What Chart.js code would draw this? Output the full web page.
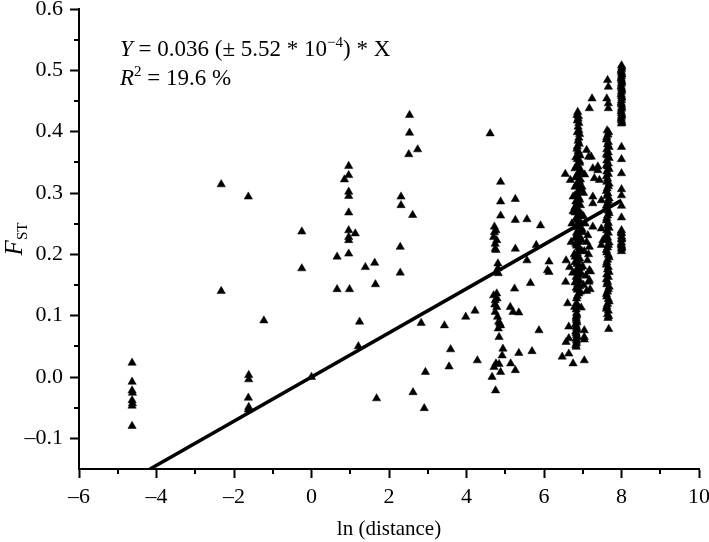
<!DOCTYPE html>
<html>
<head>
<meta charset="utf-8">
<script src="https://cdn.jsdelivr.net/npm/chart.js@4.4.1/dist/chart.umd.min.js"></script>
<style>
  html, body { margin: 0; padding: 0; background: #fff; }
</style>
</head>
<body>
<canvas id="chart" width="709" height="542"></canvas>
<script>
// pairwise points: [ln(distance), Fst]
const nearPairs = [
    [-4.63, 0.023], [-4.63, -0.008], [-4.63, -0.022], [-4.62, -0.026], [-4.63, -0.038],
    [-4.62, -0.043], [-4.63, -0.047], [-4.63, -0.080],
    [-2.33, 0.314], [-2.33, 0.140],
    [-1.63, 0.294], [-1.62, 0.003], [-1.62, -0.004], [-1.63, -0.034], [-1.63, -0.053], [-1.62, -0.049],
    [-1.23, 0.092], [-0.25, 0.237], [-0.25, 0.177], [0.0, 0.0],
    [0.66, 0.196], [0.66, 0.143],
    [0.96, 0.344], [0.96, 0.329], [0.85, 0.322], [0.96, 0.302], [0.96, 0.295], [0.96, 0.268],
    [0.96, 0.239], [1.13, 0.234], [0.96, 0.228], [0.96, 0.223], [0.96, 0.201], [0.98, 0.143],
    [1.24, 0.090], [1.21, 0.050], [1.39, 0.179], [1.63, 0.186], [1.65, 0.151], [1.68, -0.035],
    [2.29, 0.212], [2.29, 0.170], [2.31, 0.294], [2.31, 0.280], [2.61, 0.264],
    [2.53, 0.427], [2.53, 0.398], [2.51, 0.363], [2.74, 0.371],
    [2.83, 0.088], [2.94, 0.008], [2.62, -0.025], [2.91, -0.051],
    [3.43, 0.084], [3.59, 0.045], [3.55, 0.017], [3.98, 0.098], [4.22, 0.108], [4.28, 0.027]
];

const midPairs = [
    [4.61, 0.397],
    [4.88, 0.318], [4.88, 0.286], [4.88, 0.263], [4.72, 0.245], [4.76, 0.239], [4.70, 0.228],
    [4.78, 0.223], [4.74, 0.209], [4.76, 0.207], [4.81, 0.185], [4.81, 0.177], [4.82, 0.169],
    [4.70, 0.133], [4.78, 0.136], [4.74, 0.125], [4.78, 0.114], [4.74, 0.106], [4.80, 0.098],
    [4.83, 0.090], [4.86, 0.087], [4.88, 0.084], [4.82, 0.079], [4.84, 0.065], [4.94, 0.046],
    [4.92, 0.035], [4.76, 0.022], [4.84, 0.021], [4.71, 0.016], [4.88, 0.008], [4.66, 0.0],
    [4.75, -0.022], [4.72, 0.236], [4.74, 0.217], [4.79, 0.128], [4.73, 0.118],
    [5.26, 0.290], [5.26, 0.256], [5.56, 0.257], [5.91, 0.247], [5.26, 0.209], [5.80, 0.215],
    [5.56, 0.190], [6.13, 0.188], [6.13, 0.171], [6.09, 0.174], [5.24, 0.144], [5.65, 0.153],
    [5.13, 0.114], [5.20, 0.106], [5.35, 0.105], [5.87, 0.076], [5.35, 0.039], [5.69, 0.042],
    [5.14, 0.022], [5.26, 0.011]
];

const farPairs = [
    [6.55, 0.331], [6.68, 0.321], [6.75, 0.294], [7.24, 0.454], [7.17, 0.438],
    [7.10, 0.370], [7.15, 0.359], [7.22, 0.359], [7.26, 0.340], [7.39, 0.337], [7.39, 0.343],
    [7.43, 0.321], [7.30, 0.324], [7.26, 0.294], [7.26, 0.283], [7.48, 0.288], [7.26, 0.245],
    [7.48, 0.242], [7.13, 0.231], [7.52, 0.223], [7.48, 0.215], [7.17, 0.212],
    [7.17, 0.174], [7.20, 0.172], [7.17, 0.158], [7.19, 0.143], [6.57, 0.190], [6.66, 0.179],
    [6.56, 0.155], [6.61, 0.120], [6.79, 0.114], [6.96, 0.113], [6.64, 0.082], [7.04, 0.076],
    [6.64, 0.063], [7.04, 0.065], [7.04, 0.061], [6.57, 0.057], [6.47, 0.033], [6.64, 0.038],
    [6.75, 0.022], [7.04, 0.027]
];

const colA = [
    [6.87, 0.432], [6.85, 0.427], [6.88, 0.421], [6.90, 0.414], [6.90, 0.402], [6.92, 0.396],
    [6.90, 0.390], [6.88, 0.385], [6.85, 0.372], [6.90, 0.365], [6.82, 0.358], [6.92, 0.352],
    [6.86, 0.346], [6.80, 0.340], [6.90, 0.334], [6.84, 0.328], [6.94, 0.322], [6.86, 0.316],
    [6.80, 0.310], [6.92, 0.305], [6.85, 0.299], [6.90, 0.292], [6.82, 0.286], [6.94, 0.280],
    [6.86, 0.274], [6.80, 0.268], [6.92, 0.262], [6.85, 0.256], [6.90, 0.250], [6.82, 0.244],
    [6.95, 0.238], [6.86, 0.232], [6.80, 0.226], [6.90, 0.220], [6.84, 0.214], [6.93, 0.208],
    [6.86, 0.202], [6.80, 0.196], [6.90, 0.190], [6.85, 0.184], [6.95, 0.178], [6.82, 0.172],
    [6.90, 0.166], [6.86, 0.160], [6.80, 0.154], [6.92, 0.148], [6.86, 0.142], [6.90, 0.136],
    [6.84, 0.128], [6.84, 0.104], [6.83, 0.098], [6.84, 0.092], [6.82, 0.086], [6.84, 0.080],
    [6.82, 0.074], [6.84, 0.068], [6.83, 0.062], [6.84, 0.055], [6.83, 0.049],
    [7.02, 0.262], [7.06, 0.250], [7.00, 0.236], [7.10, 0.220], [7.04, 0.205], [7.12, 0.190],
    [7.00, 0.180], [7.08, 0.165], [7.15, 0.200], [7.02, 0.150], [7.10, 0.140], [7.16, 0.155],
    [6.98, 0.310], [7.02, 0.300], [7.05, 0.330], [6.75, 0.270], [6.78, 0.200], [6.72, 0.250],
    [6.70, 0.220], [6.74, 0.170],
    [6.89, 0.425], [6.86, 0.418], [6.88, 0.408], [6.86, 0.399], [6.91, 0.380], [6.86, 0.376],
    [6.88, 0.368], [6.93, 0.361], [6.86, 0.355], [6.92, 0.349], [6.84, 0.343], [6.95, 0.337],
    [6.88, 0.331], [6.82, 0.325], [6.91, 0.319], [6.84, 0.313], [6.95, 0.307], [6.88, 0.302],
    [6.80, 0.296], [6.92, 0.289], [6.86, 0.283], [6.80, 0.277], [6.90, 0.271], [6.97, 0.265],
    [6.83, 0.259], [6.93, 0.253], [6.86, 0.247], [6.98, 0.241], [6.84, 0.235], [6.92, 0.229],
    [6.97, 0.223], [6.82, 0.217], [6.90, 0.211], [6.98, 0.205], [6.84, 0.199], [6.92, 0.193],
    [6.80, 0.187], [6.90, 0.181], [6.86, 0.175], [6.96, 0.169], [6.83, 0.163], [6.92, 0.157],
    [6.87, 0.151], [6.83, 0.145], [6.94, 0.139], [6.86, 0.132], [6.84, 0.120], [6.85, 0.116],
    [6.83, 0.110], [6.85, 0.101], [6.83, 0.095], [6.85, 0.089], [6.83, 0.083], [6.85, 0.077],
    [6.83, 0.071], [6.85, 0.065], [6.84, 0.059], [6.82, 0.052]
];

const colB = [
    [7.64, 0.484], [7.66, 0.473], [7.62, 0.454], [7.66, 0.446], [7.66, 0.438], [7.63, 0.402],
    [7.65, 0.395], [7.62, 0.391], [7.66, 0.383], [7.64, 0.379], [7.62, 0.371], [7.66, 0.366],
    [7.64, 0.361], [7.62, 0.353], [7.66, 0.348], [7.64, 0.343], [7.62, 0.335], [7.66, 0.331],
    [7.64, 0.323], [7.62, 0.318], [7.66, 0.311], [7.63, 0.307], [7.65, 0.299], [7.62, 0.295],
    [7.66, 0.287], [7.64, 0.283], [7.62, 0.275], [7.66, 0.271], [7.64, 0.263], [7.62, 0.259],
    [7.66, 0.251], [7.64, 0.247], [7.62, 0.239], [7.66, 0.235], [7.64, 0.227], [7.62, 0.223],
    [7.66, 0.215], [7.64, 0.211], [7.62, 0.203], [7.66, 0.199], [7.64, 0.191], [7.62, 0.187],
    [7.66, 0.179], [7.64, 0.175], [7.62, 0.167], [7.66, 0.163], [7.64, 0.155], [7.62, 0.151],
    [7.66, 0.143], [7.64, 0.139], [7.62, 0.131], [7.66, 0.127], [7.64, 0.119], [7.62, 0.115],
    [7.66, 0.108], [7.64, 0.102], [7.65, 0.096], [7.67, 0.078],
    [7.67, 0.399], [7.61, 0.387], [7.68, 0.375], [7.61, 0.363], [7.68, 0.357], [7.61, 0.345],
    [7.68, 0.339], [7.61, 0.327], [7.68, 0.315], [7.61, 0.303], [7.68, 0.291], [7.61, 0.279],
    [7.68, 0.267], [7.61, 0.255], [7.68, 0.243], [7.61, 0.231], [7.68, 0.219], [7.61, 0.207],
    [7.68, 0.195], [7.61, 0.183], [7.68, 0.171], [7.61, 0.159], [7.68, 0.147], [7.61, 0.135],
    [7.68, 0.123], [7.61, 0.111], [7.67, 0.099]
];

const colC = [
    [8.0, 0.508], [8.0, 0.502], [8.0, 0.496], [8.0, 0.490], [8.0, 0.484], [8.0, 0.478],
    [8.0, 0.471], [8.0, 0.465], [8.0, 0.458], [8.0, 0.451], [8.0, 0.444], [8.0, 0.437],
    [8.0, 0.430], [8.0, 0.424], [8.0, 0.418], [8.0, 0.413], [8.0, 0.375], [8.0, 0.355],
    [8.0, 0.332], [8.0, 0.306], [8.0, 0.296], [8.0, 0.279], [8.0, 0.260], [8.0, 0.239],
    [8.0, 0.234], [8.0, 0.229], [8.0, 0.224], [8.0, 0.219], [8.0, 0.214], [8.0, 0.209],
    [8.0, 0.205],
    [8.01, 0.505], [7.99, 0.499], [8.01, 0.493], [7.99, 0.487], [8.01, 0.481], [7.99, 0.474],
    [8.01, 0.468], [7.99, 0.461], [8.01, 0.455], [7.99, 0.447], [8.01, 0.440], [7.99, 0.433],
    [8.01, 0.427], [7.99, 0.421], [8.01, 0.415], [7.99, 0.236], [8.01, 0.226], [7.99, 0.216],
    [8.01, 0.211]
];

// fitted line Y = 0.036 * X, drawn over the data range
const slope = 0.036;
const fitRange = [-0.15 / slope, 8.0];

const xTicks = [-6, 10];
const yTicks = [-0.15, 0.6];

const SERIF = "'Liberation Serif', 'Times New Roman', serif";

const allPoints = [].concat(nearPairs, midPairs, farPairs, colA, colB, colC)
    .map(p => ({ x: p[0], y: p[1] }));

function fmtNum(v, digits) {
    const s = Math.abs(v).toFixed(digits);
    return (v < -1e-9 ? '\u2013' : '') + s;
}

function isMajorY(v) {
    return Math.abs(v * 10 - Math.round(v * 10)) < 1e-6;
}

// minor ticks and the text annotations
const extrasPlugin = {
    id: 'extras',
    afterDraw(chart) {
        const ctx = chart.ctx;
        const xs = chart.scales.x;
        const ys = chart.scales.y;
        const area = chart.chartArea;

        ctx.save();
        ctx.strokeStyle = '#000';
        ctx.lineWidth = 2;
        // minor x ticks
        for (let v = xTicks[0] + 1; v < xTicks[1]; v += 2) {
            const px = Math.round(xs.getPixelForValue(v));
            ctx.beginPath();
            ctx.moveTo(px, area.bottom);
            ctx.lineTo(px, area.bottom + 5);
            ctx.stroke();
        }
        // minor y ticks
        for (let i = 1; i < 15; i += 2) {
            const v = -0.1 + i * 0.05;
            const py = Math.round(ys.getPixelForValue(v));
            ctx.beginPath();
            ctx.moveTo(area.left, py);
            ctx.lineTo(area.left - 5, py);
            ctx.stroke();
        }
        ctx.restore();

        // equation text
        ctx.save();
        ctx.fillStyle = '#000';
        ctx.textBaseline = 'alphabetic';
        ctx.textAlign = 'left';
        const drawRuns = (runs, x, y) => {
            runs.forEach(r => {
                const size = r.sup ? 15 : 23;
                ctx.font = (r.italic ? 'italic ' : '') + size + 'px ' + SERIF;
                ctx.fillText(r.t, x, y - (r.sup ? 9 : 0));
                x += ctx.measureText(r.t).width;
            });
        };
        drawRuns([
            { t: 'Y', italic: true },
            { t: ' = 0.036 (\u00b1 5.52 * 10' },
            { t: '\u22124', sup: true },
            { t: ') * X' }
        ], 120, 56);
        drawRuns([
            { t: 'R', italic: true },
            { t: '2', sup: true },
            { t: ' = 19.6 %' }
        ], 120, 85);

        // y axis title F_ST
        ctx.translate(22, (area.top + area.bottom) / 2);
        ctx.rotate(-Math.PI / 2);
        ctx.font = 'italic 25px ' + SERIF;
        const fw = ctx.measureText('F').width;
        ctx.font = '15px ' + SERIF;
        const sw = ctx.measureText('ST').width;
        let x0 = -(fw + sw) / 2;
        ctx.font = 'italic 25px ' + SERIF;
        ctx.fillText('F', x0, 0);
        ctx.font = '15px ' + SERIF;
        ctx.fillText('ST', x0 + fw, 5);
        ctx.restore();
    }
};

new Chart(document.getElementById('chart'), {
    type: 'scatter',
    data: {
        datasets: [
            {
                label: 'pairs',
                data: allPoints,
                pointStyle: 'triangle',
                pointRadius: 4.8,
                pointBackgroundColor: '#000',
                pointBorderColor: '#000',
                pointBorderWidth: 0.5
            },
            {
                type: 'line',
                label: 'fit',
                data: fitRange.map(x => ({ x: x, y: slope * x })),
                borderColor: '#000',
                borderWidth: 3.5,
                pointRadius: 0,
                fill: false
            }
        ]
    },
    options: {
        responsive: false,
        animation: false,
        layout: { padding: { left: 0, top: 9, right: 10, bottom: 0 } },
        plugins: {
            legend: { display: false },
            tooltip: { enabled: false }
        },
        scales: {
            x: {
                type: 'linear',
                min: xTicks[0],
                max: xTicks[1],
                border: { display: true, color: '#000', width: 2 },
                grid: {
                    drawOnChartArea: false,
                    drawTicks: true,
                    tickLength: 9,
                    tickWidth: 2,
                    tickColor: c => (c.tick && c.tick.value % 2 === 0 ? '#000' : 'rgba(0,0,0,0)')
                },
                ticks: {
                    stepSize: 2,
                    autoSkip: false,
                    maxRotation: 0,
                    padding: 6,
                    color: '#000',
                    font: { family: SERIF, size: 22 },
                    callback: v => fmtNum(v, 0)
                },
                title: {
                    display: true,
                    text: 'ln (distance)',
                    color: '#000',
                    font: { family: SERIF, size: 21 },
                    padding: { top: 3, bottom: 0 }
                },
                afterFit: s => {
                    s.height = 73;
                    s.paddingLeft = 0;
                    s.paddingRight = 0;
                }
            },
            y: {
                type: 'linear',
                min: yTicks[0],
                max: yTicks[1],
                border: { display: true, color: '#000', width: 2 },
                grid: {
                    drawOnChartArea: false,
                    drawTicks: true,
                    tickLength: 9,
                    tickWidth: 2,
                    tickColor: c => (c.tick && isMajorY(c.tick.value) ? '#000' : 'rgba(0,0,0,0)')
                },
                ticks: {
                    stepSize: 0.05,
                    autoSkip: false,
                    padding: 7,
                    color: '#000',
                    font: { family: SERIF, size: 22 },
                    callback: v => (isMajorY(v) ? fmtNum(v, 1) : '')
                },
                afterFit: s => {
                    s.width = 79;
                    s.paddingTop = 0;
                    s.paddingBottom = 0;
                }
            }
        }
    },
    plugins: [extrasPlugin]
});
</script>
</body>
</html>
